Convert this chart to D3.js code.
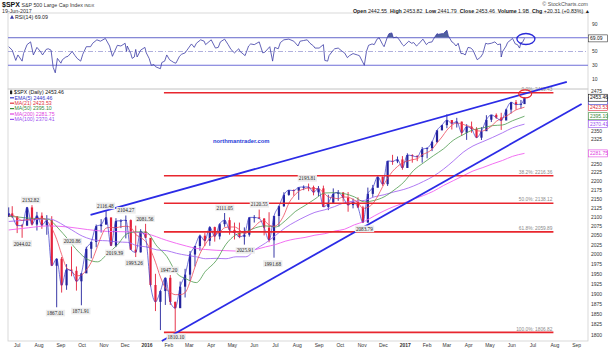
<!DOCTYPE html>
<html><head><meta charset="utf-8">
<script src="https://cdnjs.cloudflare.com/ajax/libs/d3/7.8.5/d3.min.js"></script>
<style>
html,body{margin:0;padding:0;background:#fff;}
svg{display:block;font-family:"Liberation Sans",Arial,sans-serif;}
</style></head><body>
<svg id="c" width="610" height="349"></svg>
<script>
// ---------------- DATA ----------------
const weekDates = [
"2015-06-19","2015-06-24","2015-07-01","2015-07-08","2015-07-15","2015-07-22","2015-07-29","2015-08-05","2015-08-12","2015-08-19","2015-08-26","2015-09-02","2015-09-09","2015-09-16","2015-09-23","2015-09-30","2015-10-07","2015-10-14","2015-10-21","2015-10-28","2015-11-04","2015-11-11","2015-11-18","2015-11-25","2015-12-02","2015-12-09","2015-12-16","2015-12-23","2015-12-30",
"2016-01-06","2016-01-13","2016-01-20","2016-01-27","2016-02-03","2016-02-10","2016-02-17","2016-02-24","2016-03-02","2016-03-09","2016-03-16","2016-03-23","2016-03-30","2016-04-06","2016-04-13","2016-04-20","2016-04-27","2016-05-04","2016-05-11","2016-05-18","2016-05-25","2016-06-01","2016-06-08","2016-06-15","2016-06-22","2016-06-29","2016-07-06","2016-07-13","2016-07-20","2016-07-27","2016-08-03","2016-08-10","2016-08-17","2016-08-24","2016-08-31","2016-09-07","2016-09-14","2016-09-21","2016-09-28","2016-10-05","2016-10-12","2016-10-19","2016-10-26","2016-11-02","2016-11-09","2016-11-16","2016-11-23","2016-11-30","2016-12-07","2016-12-14","2016-12-21","2016-12-28",
"2017-01-04","2017-01-11","2017-01-18","2017-01-25","2017-02-01","2017-02-08","2017-02-15","2017-02-22","2017-03-01","2017-03-08","2017-03-15","2017-03-22","2017-03-29","2017-04-05","2017-04-12","2017-04-19","2017-04-26","2017-05-03","2017-05-10","2017-05-17","2017-05-24","2017-05-31","2017-06-07","2017-06-14","2017-06-19"];
const firstOpen = 2100.4;
const weekHigh = [
2126.7,2130.0,2102.6,2081.0,2128.0,2132.8,2114.2,2112.7,2105.3,2102.5,1989.6,1993.5,1975.0,2020.9,1969.0,1951.4,2020.1,2033.5,2079.7,2094.3,2116.5,2093.0,2097.0,2094.0,2104.3,2093.5,2076.7,2067.0,2081.6,
2038.3,1950.3,1908.9,1940.2,1947.2,1881.0,1930.7,1963.0,2009.1,2022.4,2052.4,2056.6,2075.1,2074.0,2083.0,2111.1,2099.0,2084.9,2084.9,2071.9,2099.1,2105.3,2120.6,2097.0,2113.3,2103.5,2131.7,2169.1,2175.6,2177.1,2182.9,2188.5,2193.8,2187.9,2186.6,2187.9,2162.0,2180.0,2175.3,2169.8,2169.6,2151.3,2154.8,2131.0,2182.3,2189.9,2213.4,2214.1,2259.5,2277.5,2272.6,2273.8,
2282.1,2279.3,2276.0,2301.0,2299.4,2319.2,2351.3,2368.3,2401.0,2383.0,2390.0,2378.4,2370.3,2378.4,2361.0,2361.0,2398.2,2399.3,2403.9,2405.8,2418.7,2440.2,2446.2,2446.2,2453.8];
const weekLow = [
2106.0,2097.4,2056.6,2044.0,2077.0,2077.0,2063.5,2067.9,2052.1,1970.9,1867.0,1903.1,1910.0,1944.0,1908.0,1871.9,1953.0,1990.0,2019.0,2058.0,2080.0,2022.0,2019.4,2070.0,2042.4,2012.4,1993.3,2005.0,2043.6,
1918.5,1857.8,1812.3,1872.7,1872.7,1810.1,1868.0,1891.0,1931.8,1969.0,2010.0,2022.0,2022.8,2033.8,2039.7,2073.6,2052.3,2039.5,2043.0,2025.9,2047.3,2085.1,2095.0,2050.4,2032.1,1991.7,2074.0,2128.0,2159.0,2159.3,2147.6,2175.0,2172.0,2160.4,2157.8,2127.8,2119.1,2139.6,2145.0,2142.6,2114.7,2124.0,2125.0,2083.8,2084.0,2156.0,2183.0,2187.0,2187.0,2248.0,2253.0,2233.6,
2245.1,2254.3,2258.8,2254.2,2267.2,2288.5,2313.0,2353.0,2358.0,2354.0,2360.0,2335.0,2322.3,2344.0,2328.0,2322.0,2374.0,2377.0,2387.0,2352.7,2386.0,2403.8,2415.7,2419.0,2441.8];
const weekClose = [
2110.0,2101.5,2076.8,2076.6,2126.6,2079.7,2103.8,2077.6,2091.5,1970.9,1988.9,1921.2,1961.1,1958.0,1931.3,1951.4,2014.9,2033.1,2075.2,2079.4,2099.2,2023.0,2089.2,2090.1,2091.7,2012.4,2005.6,2061.0,2043.9,
1922.0,1880.3,1906.9,1940.2,1880.1,1864.8,1917.8,1948.1,2000.0,2022.2,2049.6,2035.9,2072.8,2047.6,2080.7,2091.6,2065.3,2057.1,2046.6,2052.3,2099.1,2099.1,2096.1,2071.2,2037.4,2103.0,2129.9,2161.7,2175.0,2173.6,2182.9,2184.1,2183.9,2169.0,2180.0,2127.8,2139.2,2164.7,2168.3,2153.7,2133.0,2141.2,2126.4,2085.2,2164.5,2181.9,2213.4,2192.0,2259.5,2258.1,2263.8,2238.8,
2277.0,2274.6,2271.3,2294.7,2297.4,2316.1,2351.2,2367.3,2383.1,2372.6,2378.3,2344.0,2362.7,2355.5,2329.0,2348.7,2384.2,2399.3,2390.9,2381.7,2415.8,2439.1,2431.8,2433.2,2453.5];

const ma21Values = [
2103,2105,2098,2091,2093,2092,2096,2097,2090,2070,2040,2000,1966,1957,1945,1947,1960,1980,2012,2047,2070,2072,2071,2074,2075,2072,2053,2045,2034,
2012,1980,1942,1915,1904,1898,1898,1903,1930,1968,2002,2025,2043,2051,2059,2071,2073,2073,2066,2055,2062,2073,2086,2090,2078,2075,2083,2105,2138,2158,2172,2178,2181,2180,2179,2168,2156,2153,2151,2156,2155,2149,2140,2124,2127,2137,2158,2185,2209,2229,2243,2254,
2259,2263,2266,2278,2284,2294,2313,2331,2352,2367,2374,2371,2366,2361,2350,2349,2354,2364,2379,2388,2395,2405,2415,2420,2423.5];

const ma50Dates = ["2015-06-19","2015-07-03","2015-07-17","2015-07-31","2015-08-14","2015-08-28","2015-09-11","2015-09-25","2015-10-09","2015-10-23","2015-11-06","2015-11-20","2015-12-04","2015-12-18","2015-12-31","2016-01-15","2016-01-29","2016-02-12","2016-02-26","2016-03-11","2016-03-24","2016-04-08","2016-04-22","2016-05-06","2016-05-20","2016-06-03","2016-06-17","2016-07-01","2016-07-15","2016-07-29","2016-08-12","2016-08-26","2016-09-09","2016-09-23","2016-10-07","2016-10-21","2016-11-04","2016-11-18","2016-12-02","2016-12-16","2016-12-30","2017-01-13","2017-01-27","2017-02-10","2017-02-24","2017-03-10","2017-03-24","2017-04-07","2017-04-21","2017-05-05","2017-05-19","2017-06-02","2017-06-19"];
const ma50Values = [2102,2100,2097,2096,2094,2070,2040,2009,1987,1981,2002,2025,2055,2060,2059,2022,1995,1952,1937,1928,1957,1984,2027,2052,2060,2071,2076,2073,2090,2115,2132,2150,2167,2168,2165,2156,2142,2146,2156,2175,2198,2232,2254,2275,2295,2321,2338,2353,2359,2366,2368,2381,2395.1];

const ma100Dates = ["2015-06-19","2015-07-17","2015-08-14","2015-09-11","2015-10-02","2015-10-23","2015-11-06","2015-11-20","2015-12-04","2015-12-18","2015-12-31","2016-01-15","2016-01-29","2016-02-12","2016-02-26","2016-03-11","2016-03-24","2016-04-08","2016-04-22","2016-05-06","2016-05-20","2016-06-03","2016-06-17","2016-07-01","2016-07-15","2016-07-29","2016-08-12","2016-08-26","2016-09-09","2016-09-23","2016-10-07","2016-10-21","2016-11-04","2016-11-18","2016-12-02","2016-12-16","2016-12-30","2017-01-13","2017-01-27","2017-02-10","2017-02-24","2017-03-10","2017-03-24","2017-04-07","2017-04-21","2017-05-05","2017-05-19","2017-06-02","2017-06-19"];
const ma100Values = [2088,2092,2095,2071,2048,2037,2036,2033,2032,2023,2020,2012,2010,2003,1998,1994,1989,1990,1989,1994,1994,2014,2030,2050,2071,2087,2101,2113,2120,2129,2140,2144,2146,2156,2162,2170,2177,2187,2200,2215,2235,2259,2285,2304,2317,2330,2344,2359,2370.4];

const ma200Dates = ["2015-06-19","2015-07-17","2015-08-14","2015-09-11","2015-10-09","2015-11-06","2015-12-04","2015-12-31","2016-01-29","2016-02-26","2016-03-11","2016-03-24","2016-04-08","2016-04-22","2016-05-06","2016-05-20","2016-06-03","2016-06-17","2016-07-01","2016-07-15","2016-07-29","2016-08-12","2016-08-26","2016-09-09","2016-09-23","2016-10-07","2016-10-21","2016-11-04","2016-11-18","2016-12-02","2016-12-16","2016-12-30","2017-01-13","2017-01-27","2017-02-10","2017-02-24","2017-03-10","2017-03-24","2017-04-07","2017-04-21","2017-05-05","2017-05-19","2017-06-02","2017-06-19"];
const ma200Values = [2065,2071,2076,2073,2066,2061,2060,2055,2037,2022,2016,2013,2011,2010,2009,2007,2013,2020,2026,2035,2041,2045,2051,2055,2062,2067,2079,2088,2103,2117,2129,2139,2150,2160,2172,2188,2202,2216,2230,2240,2251,2261,2273,2281.8];

const rsiDates = [
"2015-06-19","2015-06-24","2015-06-29","2015-07-02","2015-07-08","2015-07-10","2015-07-15","2015-07-20","2015-07-24","2015-07-29",
"2015-08-03","2015-08-06","2015-08-11","2015-08-14","2015-08-18","2015-08-21","2015-08-24","2015-08-27",
"2015-09-01","2015-09-03","2015-09-08","2015-09-11","2015-09-17","2015-09-21","2015-09-24","2015-09-29",
"2015-10-02","2015-10-07","2015-10-13","2015-10-16","2015-10-22","2015-10-27",
"2015-11-03","2015-11-09","2015-11-13","2015-11-16","2015-11-20","2015-11-25",
"2015-12-01","2015-12-03","2015-12-04","2015-12-09","2015-12-11","2015-12-14","2015-12-16","2015-12-18","2015-12-23","2015-12-29","2015-12-31",
"2016-01-04","2016-01-07","2016-01-11","2016-01-13","2016-01-15","2016-01-20","2016-01-22","2016-01-26","2016-01-29",
"2016-02-02","2016-02-05","2016-02-08","2016-02-11","2016-02-16","2016-02-19","2016-02-24","2016-02-26",
"2016-03-04","2016-03-08","2016-03-11","2016-03-17","2016-03-22","2016-03-24",
"2016-04-01","2016-04-07","2016-04-11","2016-04-14","2016-04-20","2016-04-25","2016-04-29",
"2016-05-04","2016-05-10","2016-05-12","2016-05-19","2016-05-24","2016-05-27",
"2016-06-01","2016-06-08","2016-06-13","2016-06-16","2016-06-23","2016-06-27","2016-06-30",
"2016-07-05","2016-07-08","2016-07-13","2016-07-20","2016-07-27",
"2016-08-02","2016-08-05","2016-08-10","2016-08-15","2016-08-19","2016-08-24","2016-08-26",
"2016-09-01","2016-09-07","2016-09-09","2016-09-13","2016-09-15","2016-09-21","2016-09-23","2016-09-28",
"2016-10-04","2016-10-07","2016-10-11","2016-10-14","2016-10-19","2016-10-25","2016-10-28",
"2016-11-01","2016-11-04","2016-11-07","2016-11-10","2016-11-15","2016-11-18","2016-11-22","2016-11-25","2016-11-30",
"2016-12-02","2016-12-07","2016-12-09","2016-12-13","2016-12-15","2016-12-20","2016-12-23","2016-12-28","2016-12-30",
"2017-01-06","2017-01-10","2017-01-13","2017-01-17","2017-01-20","2017-01-26","2017-01-31",
"2017-02-03","2017-02-08","2017-02-10","2017-02-15","2017-02-17","2017-02-22","2017-02-24",
"2017-03-01","2017-03-03","2017-03-08","2017-03-10","2017-03-14","2017-03-17","2017-03-21","2017-03-24","2017-03-27","2017-03-31",
"2017-04-04","2017-04-07","2017-04-13","2017-04-18","2017-04-21","2017-04-25","2017-04-28",
"2017-05-03","2017-05-08","2017-05-12","2017-05-16","2017-05-17","2017-05-19","2017-05-24","2017-05-26",
"2017-06-02","2017-06-06","2017-06-09","2017-06-12","2017-06-14","2017-06-16","2017-06-19"];
const rsiValues = [
57,52,37,45,36,47,60,64,45,56,
50,45,53,54,52,27,19,40,
33,38,42,43,50,44,40,36,
46,57,57,62,67,65,
69,58,43,50,59,58,
62,50,58,47,40,42,53,42,52,56,48,
40,30,31,28,27,25,34,36,45,
38,36,34,33,43,46,48,51,
61,56,62,67,65,60,
67,55,56,64,68,60,53,
48,54,50,44,58,61,
60,64,48,49,57,36,56,
54,63,67,68,65,
58,65,66,67,62,58,55,
55,60,37,36,44,52,54,55,
50,48,41,44,47,45,44,
36,30,50,59,61,60,68,70,60,
57,72,76,77,70,71,68,60,58,
65,62,63,58,61,68,60,
63,64,68,76,75,76,76,
81,73,64,63,58,62,47,47,45,56,
55,52,38,42,47,62,61,
62,64,60,61,42,50,58,63,
69,61,60,55,63,63,69.09];

const priceTicks = [1800,1825,1850,1875,1900,1925,1950,1975,2000,2025,2050,2075,2100,2125,2150,2175,2200,2225,2250,2275,2300,2325,2350,2375,2400,2425,2450,2475];
const rsiTicks = [10,30,50,70,90];
const monthTicks = ["2015-07-01","2015-08-01","2015-09-01","2015-10-01","2015-11-01","2015-12-01","2016-01-01","2016-02-01","2016-03-01","2016-04-01","2016-05-01","2016-06-01","2016-07-01","2016-08-01","2016-09-01","2016-10-01","2016-11-01","2016-12-01","2017-01-01","2017-02-01","2017-03-01","2017-04-01","2017-05-01","2017-06-01","2017-07-01","2017-08-01","2017-09-01"];
const monthLabels = ["Jul","Aug","Sep","Oct","Nov","Dec","2016","Feb","Mar","Apr","May","Jun","Jul","Aug","Sep","Oct","Nov","Dec","2017","Feb","Mar","Apr","May","Jun","Jul","Aug","Sep"];

const fibPercents = ["0.0%","38.2%","50.0%","61.8%","100.0%"];
const fibValues = [2469.43,2216.36,2138.12,2059.89,1806.82];
const fibSpan = ["2016-01-25","2017-07-30"];

const annDates = ["2015-07-20","2015-07-08","2015-08-24","2015-09-17","2015-09-29","2015-11-03","2015-11-16","2015-12-02","2015-12-14","2015-12-29","2016-02-01","2016-02-11","2016-04-20","2016-05-19","2016-06-08","2016-06-27","2016-08-15","2016-11-04"];
const annValues = [2132.82,2044.02,1867.01,2020.86,1871.91,2116.48,2019.39,2104.27,1993.26,2081.56,1947.20,1810.10,2111.05,2025.91,2120.55,1991.68,2193.81,2083.79];
const annKinds = ["H","L","L","H","L","H","L","H","L","H","H","L","H","L","H","L","H","L"];

const trendUpperDates = ["2015-10-13","2017-08-18"];
const trendUpperValues = [2105.7,2504.4];
const trendLowerDates = ["2016-01-22","2017-09-08"];
const trendLowerValues = [1786.7,2433.5];

const legendNames = ["EMA(5)","MA(21)","MA(50)","MA(200)","MA(100)"];
const legendValues = ["2446.46","2423.53","2395.10","2281.75","2370.41"];
const lastClose = 2453.46;
const lastRsi = 69.09;

// ---------------- CHART ----------------
const parse = d3.utcParse("%Y-%m-%d");
const svg = d3.select("#c");
const PL = 8, PR = 588, MT = 89, MB = 341, RT = 13, RB = 89;
const BLUE = "#23239c", RED = "#e4203a";
const COL = {ema:"#3535c8", ma21:"#ee4a5c", ma50:"#4c9a4c", ma200:"#f060f0", ma100:"#a66cf2"};
const legendColors = [COL.ema, "#e0303c", "#3a8a3a", "#e040e0", "#9a50f0"];

const x = d3.scaleUtc().domain([parse("2015-06-18"), parse("2017-09-17")]).range([PL, PR]);
const y = d3.scaleLog().domain([1786.7, 2481.6]).range([MB, MT]);
const ry = d3.scaleLinear().domain([10, 90]).range([79, 24]);

const defs = svg.append("defs");
defs.append("clipPath").attr("id","clipMain").append("rect").attr("x",PL).attr("y",MT).attr("width",PR-PL).attr("height",MB-MT);
defs.append("clipPath").attr("id","clipRsi").append("rect").attr("x",PL).attr("y",RT).attr("width",PR-PL).attr("height",RB-RT);
defs.append("clipPath").attr("id","clipAbove").append("rect").attr("x",PL).attr("y",RT).attr("width",PR-PL).attr("height",ry(70)-RT);

// panel frames
svg.append("rect").attr("x",PL).attr("y",RT).attr("width",PR-PL).attr("height",RB-RT).attr("fill","none").attr("stroke","#cfcfcf").attr("stroke-width",0.8);
svg.append("rect").attr("x",PL).attr("y",MT).attr("width",PR-PL).attr("height",MB-MT).attr("fill","none").attr("stroke","#cfcfcf").attr("stroke-width",0.8);

// ---------- header ----------
const hdr = svg.append("text").attr("x",2).attr("y",7).attr("fill","#111");
hdr.append("tspan").attr("font-weight","bold").attr("font-size",7).text("$SPX");
hdr.append("tspan").attr("font-size",5.3).attr("dx",1.5).attr("fill","#333").text("S&P 500 Large Cap Index");
hdr.append("tspan").attr("font-size",4.2).attr("dx",1.5).attr("fill","#333").text("INDX");
svg.append("text").attr("x",2).attr("y",13).attr("font-size",5.3).attr("fill","#333").text("19-Jun-2017");
svg.append("text").attr("x",588).attr("y",6).attr("text-anchor","end").attr("font-size",5.3).attr("fill","#555").text("© StockCharts.com");
const ohlc = svg.append("text").attr("x",590).attr("y",13).attr("text-anchor","end").attr("font-size",5.3).attr("fill","#222");
[["Open","2442.55"],["High","2453.82"],["Low","2441.79"],["Close","2453.46"],["Volume","1.9B"],["Chg","+20.31 (+0.83%) ▲"]].forEach((p,i)=>{
  ohlc.append("tspan").attr("font-weight","bold").attr("dx", i? 3:0).text(p[0]);
  ohlc.append("tspan").attr("dx",1.5).text(p[1]);
});

// ---------- RSI panel ----------
const rsi = rsiDates.map((d,i)=>({date:parse(d), v:rsiValues[i]}));
const rg = svg.append("g");
[70,30].forEach(v=>{
  rg.append("line").attr("x1",PL).attr("x2",PR).attr("y1",ry(v)).attr("y2",ry(v)).attr("stroke","#6f6fd8").attr("stroke-width",1);
});
rg.append("line").attr("x1",PL).attr("x2",PR).attr("y1",ry(50)).attr("y2",ry(50)).attr("stroke","#9a9ad4").attr("stroke-width",0.8).attr("stroke-dasharray","5,2,1,2");
rg.append("path").datum(rsi).attr("clip-path","url(#clipAbove)")
  .attr("d", d3.area().x(d=>x(d.date)).y0(ry(70)).y1(d=>ry(d.v)))
  .attr("fill","#4f5f9e");
rg.append("path").datum(rsi).attr("clip-path","url(#clipRsi)")
  .attr("d", d3.line().x(d=>x(d.date)).y(d=>ry(d.v)))
  .attr("fill","none").attr("stroke","#3c3ca6").attr("stroke-width",0.8);
// RSI legend
rg.append("path").attr("d","M10,18.8 L12,15 L14,18.8 Z").attr("fill","#3c3ca6");
rg.append("text").attr("x",15).attr("y",19).attr("font-size",5.3).attr("fill","#222").text("RSI(14) " + lastRsi.toFixed(2));
// RSI axis (labels hidden by the value box are not drawn)
const rsiBoxY = ry(lastRsi);
rg.selectAll("text.rt").data(rsiTicks.filter(t=>Math.abs(ry(t)-rsiBoxY)>6)).join("text").attr("class","rt")
  .attr("x",592).attr("y",d=>ry(d)).attr("dy","0.35em").attr("font-size",5).attr("fill","#333").text(d=>d);
rg.append("rect").attr("x",588.5).attr("y",rsiBoxY-3.5).attr("width",19).attr("height",7).attr("fill","#fff").attr("stroke","#333").attr("stroke-width",0.6);
rg.append("text").attr("x",590).attr("y",rsiBoxY).attr("dy","0.35em").attr("font-size",5).attr("fill","#111").text(lastRsi.toFixed(2));
// blue ellipse
rg.append("ellipse").attr("cx",x(parse("2017-06-21"))).attr("cy",ry(68.2)).attr("rx",9).attr("ry",5.5)
  .attr("fill","none").attr("stroke","#2a2ad8").attr("stroke-width",1.3);

// ---------- main panel ----------
const mg = svg.append("g").attr("clip-path","url(#clipMain)");
const bars = weekDates.map((d,i)=>({date:parse(d), h:weekHigh[i], l:weekLow[i], c:weekClose[i], o: i? weekClose[i-1] : firstOpen}));

mg.selectAll("line.wick").data(bars).join("line").attr("class","wick")
  .attr("x1",d=>x(d.date)).attr("x2",d=>x(d.date)).attr("y1",d=>y(d.h)).attr("y2",d=>y(d.l))
  .attr("stroke",d=>d.c>=d.o?BLUE:RED).attr("stroke-width",0.9);
mg.selectAll("rect.body").data(bars).join("rect").attr("class","body")
  .attr("x",d=>x(d.date)-1.1).attr("width",2.2)
  .attr("y",d=>y(Math.max(d.o,d.c))).attr("height",d=>Math.max(0.8, Math.abs(y(d.o)-y(d.c))))
  .attr("fill",d=>d.c>=d.o?BLUE:RED);

function maLine(dates, vals, color, w){
  const data = dates.map((d,i)=>({date:parse(d), v:vals[i]}));
  mg.append("path").datum(data)
    .attr("d", d3.line().curve(d3.curveMonotoneX).x(d=>x(d.date)).y(d=>y(d.v)))
    .attr("fill","none").attr("stroke",color).attr("stroke-width",w);
}
maLine(ma200Dates, ma200Values, COL.ma200, 0.9);
maLine(ma100Dates, ma100Values, COL.ma100, 0.9);
maLine(ma50Dates, ma50Values, COL.ma50, 0.8);
maLine(weekDates, ma21Values, COL.ma21, 0.8);
maLine(weekDates, weekClose, COL.ema, 0.7);

// fib lines
const fg = svg.append("g");
fibValues.forEach((v,i)=>{
  fg.append("line").attr("x1",x(parse(fibSpan[0]))).attr("x2",x(parse(fibSpan[1])))
    .attr("y1",y(v)).attr("y2",y(v)).attr("stroke","#e8262e").attr("stroke-width",1.6);
  fg.append("text").attr("x",x(parse(fibSpan[1]))-1).attr("y",y(v)-1.8).attr("text-anchor","end")
    .attr("font-size",4.8).attr("fill","#8a8a8a").text(fibPercents[i] + ": " + v.toFixed(2));
});

// trend lines
[[trendUpperDates,trendUpperValues],[trendLowerDates,trendLowerValues]].forEach(t=>{
  svg.append("line").attr("x1",x(parse(t[0][0]))).attr("y1",y(t[1][0]))
    .attr("x2",x(parse(t[0][1]))).attr("y2",y(t[1][1]))
    .attr("stroke","#2b2be6").attr("stroke-width",1.8);
});

// annotations
const ag = svg.append("g");
annDates.forEach((d,i)=>{
  const cx = x(parse(d));
  const cy = annKinds[i]==="H" ? y(annValues[i]) - 5 : y(annValues[i]) + 6;
  const t = ag.append("text").attr("x",cx).attr("y",cy).attr("dy","0.35em").attr("text-anchor","middle")
    .attr("font-family","'Liberation Serif','Times New Roman',serif").attr("font-size",5.2).attr("fill","#222")
    .text(annValues[i].toFixed(2));
  const bb = t.node().getBBox();
  ag.insert("rect","text").attr("x",bb.x-1).attr("y",bb.y-0.3).attr("width",bb.width+2).attr("height",bb.height+0.6)
    .attr("fill","#ececec");
});

// red ellipse at last high
svg.append("ellipse").attr("cx",x(parse("2017-06-20"))).attr("cy",y(2466)).attr("rx",6.5).attr("ry",4)
  .attr("fill","none").attr("stroke","#e8262e").attr("stroke-width",1.2);

// watermark
svg.append("text").attr("x",213).attr("y",143).attr("font-size",5.8).attr("font-weight","bold").attr("fill","#1f3bd8").text("northmantrader.com");

// legend
const lg = svg.append("g");
lg.append("rect").attr("x",10).attr("y",90.6).attr("width",2.2).attr("height",3.4).attr("fill","#222");
lg.append("line").attr("x1",11.1).attr("x2",11.1).attr("y1",89.8).attr("y2",94.8).attr("stroke","#222").attr("stroke-width",0.5);
lg.append("text").attr("x",14).attr("y",94.2).attr("font-size",5.2).attr("fill","#111").text("$SPX (Daily) " + lastClose.toFixed(2));
legendNames.forEach((n,i)=>{
  const yy = 97.8 + i*5.4;
  lg.append("line").attr("x1",10).attr("x2",14).attr("y1",yy).attr("y2",yy).attr("stroke",legendColors[i]).attr("stroke-width",1.2);
  lg.append("text").attr("x",14.5).attr("y",yy+1.8).attr("font-size",5.2).attr("fill",legendColors[i]).text(n + " " + legendValues[i]);
});

// value boxes on right axis (the EMA box sits mostly hidden under the close box, as in the original)
const boxes = [{v:lastClose,c:"#111",txt:true}].concat(legendValues.map((v,i)=>({v:+v, c:legendColors[i], txt:i!==0})));
boxes.sort((a,b)=>b.v-a.v);
let prev = -100;
boxes.forEach(b=>{ b.yy = Math.max(y(b.v), prev + 3.2); prev = b.yy; });
boxes.forEach((b,i)=>{ if(i>1 && b.yy < boxes[i-1].yy + 6) b.yy = boxes[i-1].yy + 6; });

// right axis labels (skip those covered by a value box)
const ax = svg.append("g");
ax.selectAll("text.pt").data(priceTicks.filter(t=>boxes.every(b=>Math.abs(y(t)-b.yy)>6.5))).join("text").attr("class","pt")
  .attr("x",591).attr("y",d=>y(d)).attr("dy","0.35em")
  .attr("font-size",5).attr("fill","#333").text(d=>d);
boxes.slice().reverse().forEach(b=>{
  ax.append("rect").attr("x",588.5).attr("y",b.yy-3.5).attr("width",19).attr("height",7).attr("fill","#fff").attr("stroke",b.c).attr("stroke-width",0.6);
  if (b.txt) ax.append("text").attr("x",590).attr("y",b.yy).attr("dy","0.35em").attr("font-size",5).attr("fill",b.c).text(b.v.toFixed(2));
});

// x axis labels
svg.selectAll("text.xl").data(monthTicks).join("text").attr("class","xl")
  .attr("x",d=>x(parse(d))).attr("y",347).attr("text-anchor","middle").attr("font-size",5)
  .attr("font-weight",(d,i)=>/^\d{4}$/.test(monthLabels[i])?"bold":"normal")
  .attr("fill","#333").text((d,i)=>monthLabels[i]);
</script>
</body></html>
